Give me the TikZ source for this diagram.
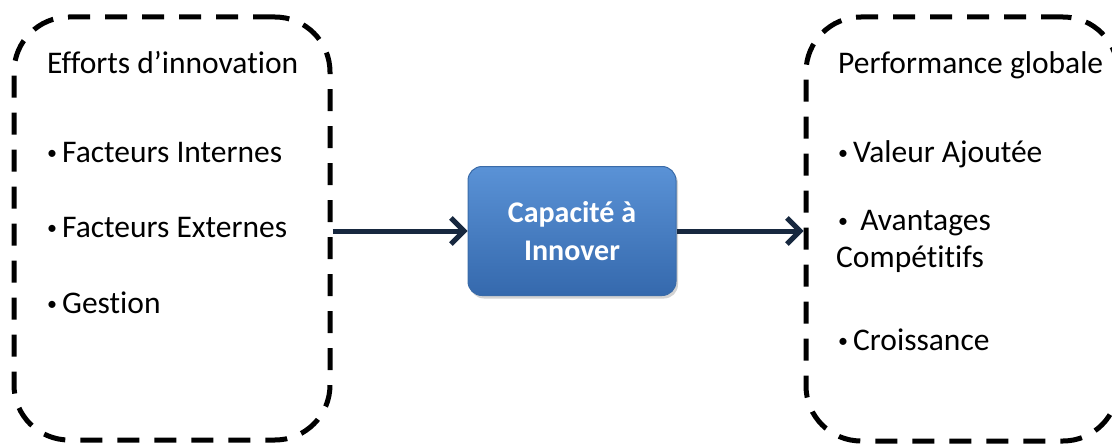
\documentclass[tikz,border=0pt]{standalone}
\usepackage{fontspec}
\setmainfont{Carlito}[Ligatures=NoCommon]
\usepackage{xcolor}
\usetikzlibrary{arrows.meta, shadows, positioning}
\definecolor{navy}{HTML}{17283F}
\definecolor{bluetop}{HTML}{5A92D6}
\definecolor{bluebot}{HTML}{3569AD}
\definecolor{blueline}{HTML}{3A6BA8}
\newcommand{\puce}{\raisebox{3pt}{\fontsize{20}{20}\selectfont •}\hspace{5pt}}

\begin{document}
\begin{tikzpicture}[x=1pt, y=-1pt,
    cadre/.style={draw, dash pattern=on 22pt off 15pt, line width=5pt, rounded corners=55pt},
    item/.style={anchor=base west, inner sep=0pt, font=\fontsize{31.5}{36}\selectfont},
    capbox/.style={draw=blueline, line width=1pt, rounded corners=14pt, top color=bluetop, bottom color=bluebot,
        text=white, align=center, font=\bfseries\fontsize{30}{38}\selectfont,
        drop shadow={opacity=0.35, shadow xshift=2pt, shadow yshift=-3pt}},
    fleche/.style={draw=navy, line width=5pt, -{Straight Barb[length=13pt, width=26pt, line width=5pt]}}]
                        \useasboundingbox (0,0) rectangle (1112,444);
                        \node[cadre, minimum width=316pt, minimum height=423pt] (efforts) at (172, 228.5) {};
                        \node[cadre, minimum width=312pt, minimum height=424pt] (perf) at (962, 229) {};
                        \node[capbox, minimum width=208pt, minimum height=129pt] (capacite) at (572, 231) {Capacité à\\Innover};
                        \node[item] (titre1) at (47, 74) {Efforts d’innovation};
                        \foreach \t/\y [count=\i] in {Facteurs Internes/162, Facteurs Externes/237, Gestion/313} {
                            \node[item] (fact\i) at (47, \y) {\puce\t};
                        }
                        \node[item] (titre2) at (838, 74) {Performance globale};
                        \node[item] (valeur) at (838, 162) {\puce Valeur Ajoutée};
                        \node[item] (avant) at (838, 230) {\puce\ Avantages};
                        \node[item] (compet) at (836, 267) {Compétitifs};
                        \node[item] (croiss) at (838, 350) {\puce Croissance};
                        \draw
                        (efforts.east |- capacite.west) edge[fleche] (capacite.west)
                        (capacite.east) edge[fleche] (perf.west |- capacite.east);
                    \end{tikzpicture}
\end{document}
